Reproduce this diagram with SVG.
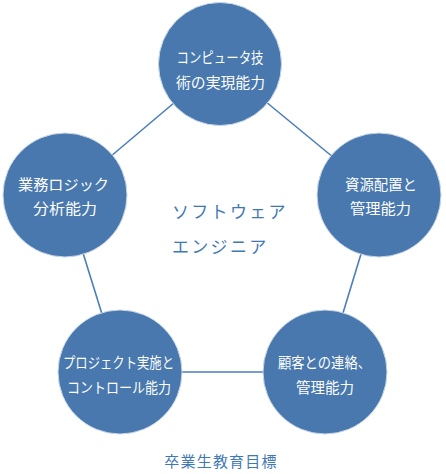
<svg xmlns="http://www.w3.org/2000/svg" width="446" height="474" viewBox="0 0 446 474">
<style>
.node{fill:#4878ae;stroke:#c9d7e8;stroke-width:1}
.lbl{font-family:"Noto Sans CJK JP","Noto Sans",sans-serif;font-size:14.5px;fill:#ffffff;text-anchor:middle}
.mid{font-family:"Noto Sans CJK JP","Noto Sans",sans-serif;font-size:17px;fill:#3f78b4;letter-spacing:2.3px}
.cap{font-family:"Noto Sans CJK JP","Noto Sans",sans-serif;font-size:15px;fill:#3f78b4;text-anchor:middle;letter-spacing:1.2px}
.edge{stroke:#4a7ebb;stroke-width:1.6;fill:none}
</style>
<rect width="446" height="474" fill="#ffffff"/>
<g id="connectors">
<line class="edge" x1="220" y1="64" x2="65" y2="195"/>
<line class="edge" x1="220" y1="64" x2="379" y2="195"/>
<line class="edge" x1="65" y1="195" x2="120" y2="372"/>
<line class="edge" x1="379" y1="195" x2="325" y2="372"/>
<line class="edge" x1="120" y1="372" x2="325" y2="372"/>
</g>
<g id="n_top">
<circle class="node" cx="220" cy="64" r="61.5"/>
<text class="lbl" x="220" y="63" textLength="87" lengthAdjust="spacingAndGlyphs">コンピュータ技</text>
<text class="lbl" x="220.5" y="88" textLength="89" lengthAdjust="spacingAndGlyphs">術の実現能力</text>
</g>
<g id="n_left">
<circle class="node" cx="65" cy="195" r="62"/>
<text class="lbl" x="63.5" y="190" textLength="91" lengthAdjust="spacingAndGlyphs">業務ロジック</text>
<text class="lbl" x="65" y="214" textLength="64" lengthAdjust="spacingAndGlyphs">分析能力</text>
</g>
<g id="n_right">
<circle class="node" cx="379" cy="195" r="62"/>
<text class="lbl" x="381" y="190" textLength="72" lengthAdjust="spacingAndGlyphs">資源配置と</text>
<text class="lbl" x="380.5" y="214" textLength="61" lengthAdjust="spacingAndGlyphs">管理能力</text>
</g>
<g id="n_bl">
<circle class="node" cx="120" cy="372" r="62"/>
<text class="lbl" x="118.5" y="368" textLength="111" lengthAdjust="spacingAndGlyphs">プロジェクト実施と</text>
<text class="lbl" x="119" y="393" textLength="104" lengthAdjust="spacingAndGlyphs">コントロール能力</text>
</g>
<g id="n_br">
<circle class="node" cx="325" cy="372" r="62"/>
<text class="lbl" x="324.5" y="368" textLength="93" lengthAdjust="spacingAndGlyphs">顧客との連絡、</text>
<text class="lbl" x="325" y="393" textLength="58" lengthAdjust="spacingAndGlyphs">管理能力</text>
</g>
<g id="center">
<text class="mid" x="172" y="218">ソフトウェア</text>
<text class="mid" x="172" y="253">エンジニア</text>
</g>
<text class="cap" x="221" y="467">卒業生教育目標</text>
</svg>
